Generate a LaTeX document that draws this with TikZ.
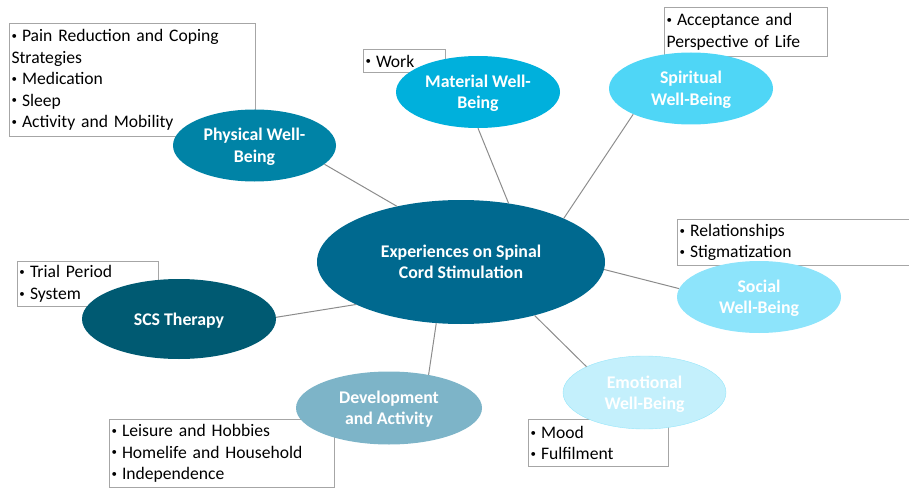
\documentclass[tikz,border=0pt]{standalone}
\usepackage{fontspec}
\setmainfont{Carlito}
\usetikzlibrary{shapes.geometric}

\definecolor{ctrcol}{HTML}{00698F}
\definecolor{physcol}{HTML}{0083A6}
\definecolor{matcol}{HTML}{00B0DC}
\definecolor{spicol}{HTML}{4FD6F6}
\definecolor{soccol}{HTML}{8DE4FB}
\definecolor{emocol}{HTML}{C4F0FC}
\definecolor{devcol}{HTML}{7DB4C8}
\definecolor{scscol}{HTML}{005A72}
\definecolor{boxgray}{HTML}{A6A6A6}
\definecolor{linegray}{HTML}{8C8C8C}

\newcommand\bul{\makebox[10.5pt][l]{\raisebox{2.3pt}{\scalebox{0.62}{•}}}}

\tikzset{
  bubble/.style={ellipse, inner sep=0pt, align=center, text=white,
    font=\fontsize{17.8}{21.5}\selectfont\bfseries, text depth=0pt,
    minimum width=163pt, minimum height=72pt},
  listbox/.style={draw=boxgray, line width=1pt, anchor=north west,
    inner xsep=2pt, inner ysep=0pt, align=left,
    font=\fontsize{17.6}{21.5}\selectfont},
  link/.style={draw=linegray, line width=1pt}
}

\begin{document}
\begin{tikzpicture}[x=1pt,y=-1pt]
\clip (0,0) rectangle (909,489);
% lists of themes
\node [listbox, text width=242pt, minimum height=113pt] (physlist) at (9,23)
  {\bul Pain Reduction and Coping\\Strategies\\\bul Medication\\\bul Sleep\\\bul Activity and Mobility};
\node [listbox, text width=78pt, minimum height=23pt] (worklist) at (363,49) {\bul Work};
\node [listbox, text width=159pt, minimum height=49pt] (spilist) at (664,7)
  {\bul Acceptance and\\Perspective of Life};
\node [listbox, text width=240pt, minimum height=46pt] (soclist) at (677,219)
  {\bul Relationships\\\bul Stigmatization};
\node [listbox, text width=137pt, minimum height=45pt] (scslist) at (17,261)
  {\bul Trial Period\\\bul System};
\node [listbox, text width=221pt, minimum height=68pt] (devlist) at (109,419)
  {\bul Leisure and Hobbies\\\bul Homelife and Household\\\bul Independence};
\node [listbox, text width=136pt, minimum height=47pt] (emolist) at (528,419)
  {\bul Mood\\\bul Fulfilment};
% domains
\node [bubble, fill=ctrcol, minimum width=288pt, minimum height=124pt] (ctr) at (461,262)
  {Experiences on Spinal\\Cord Stimulation};
\node [bubble, fill=physcol] (phys) at (254.5,145.5) {Physical Well-\\Being};
\node [bubble, fill=matcol, minimum width=164pt] (mat) at (478,92) {Material Well-\\Being};
\node [bubble, fill=spicol, minimum width=164pt] (spi) at (691,88.5) {Spiritual\\Well-Being};
\node [bubble, fill=soccol, minimum width=164pt] (soc) at (759,297) {Social\\Well-Being};
\node [bubble, fill=emocol, draw=spicol!60, minimum height=73pt] (emo) at (644.5,392.5) {Emotional\\Well-Being};
\node [bubble, fill=devcol, minimum width=186pt, minimum height=73pt] (dev) at (389,408) {Development\\and Activity};
\node [bubble, fill=scscol, minimum width=194pt, minimum height=80pt] (scs) at (179,319) {SCS Therapy};
% connectors
\draw [link] (ctr.139) -- (phys.345);
\draw [link] (ctr.51) -- (mat.south);
\draw [link] (ctr.23) -- (spi.204);
\draw [link] (ctr.357) -- (soc.174);
\draw [link] (ctr.324) -- (emo.156);
\draw [link] (ctr.248) -- (dev.40);
\draw [link] (ctr.202) -- (scs.1);
\end{tikzpicture}
\end{document}
